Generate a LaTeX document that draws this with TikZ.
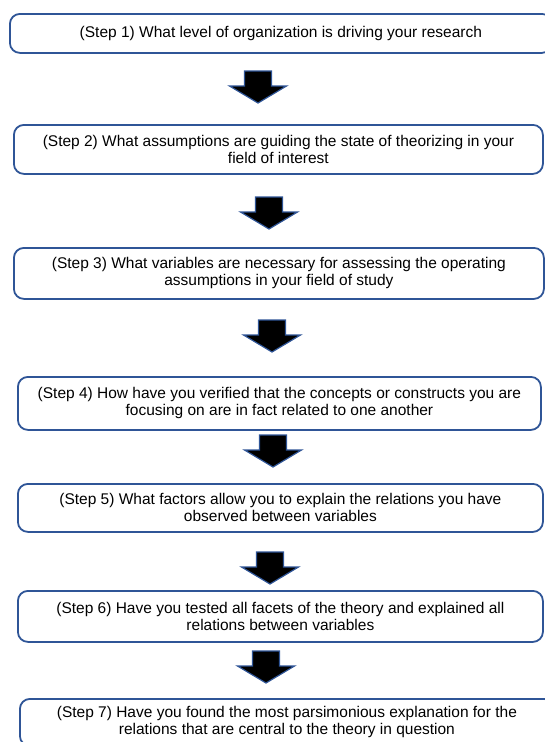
\documentclass[tikz,border=0pt]{standalone}
\usepackage{fontspec}
\setmainfont{Liberation Sans}
\usepackage{xcolor}
\definecolor{stepblue}{RGB}{47,85,151}

\tikzset{
  stepbox/.style={draw=stepblue, line width=1.8pt, rounded corners=10pt,
    fill=white, align=center, inner sep=0pt, anchor=north west,
    font=\fontsize{15.5}{17}\selectfont},
  downarrow/.pic={
    \filldraw[fill=black, draw=stepblue, line width=1.2pt]
      (-13.5,0) -- (13.5,0) -- (13.5,15) -- (28.5,15) -- (0,32)
      -- (-28.5,15) -- (-13.5,15) -- cycle;}
}

\begin{document}
\begin{tikzpicture}[x=1pt,y=-1pt]
  \useasboundingbox (0,0) rectangle (544,742);

\node[stepbox, minimum width=542pt, minimum height=39pt] (s1) at (9,13)
{(Step 1) What level of organization is driving your research};

\pic (a1) at (258,71) {downarrow};

\node[stepbox, minimum width=529pt, minimum height=49pt] (s2) at (13,124)
{(Step 2) What assumptions are guiding the state of theorizing in your\\ field of interest};

\pic (a2) at (269,197) {downarrow};

\node[stepbox, minimum width=530pt, minimum height=51pt] (s3) at (13,247)
{(Step 3) What variables are necessary for assessing the operating\\ assumptions in your field of study};

\pic (a3) at (272,320) {downarrow};

\node[stepbox, minimum width=523pt, minimum height=53pt] (s4) at (17,376)
{(Step 4) How have you verified that the concepts or constructs you are\\ focusing on are in fact related to one another};

\pic (a4) at (273,435) {downarrow};

\node[stepbox, minimum width=525pt, minimum height=48pt] (s5) at (17,483)
{(Step 5) What factors allow you to explain the relations you have\\ observed between variables};

\pic (a5) at (270,552) {downarrow};

\node[stepbox, minimum width=525pt, minimum height=51pt] (s6) at (17,590)
{(Step 6) Have you tested all facets of the theory and explained all\\ relations between variables};

\pic (a6) at (266,651) {downarrow};

\node[stepbox, minimum width=534pt, minimum height=47pt] (s7) at (19,698)
{(Step 7) Have you found the most parsimonious explanation for the\\ relations that are central to the theory in question};

\end{tikzpicture}
\end{document}
